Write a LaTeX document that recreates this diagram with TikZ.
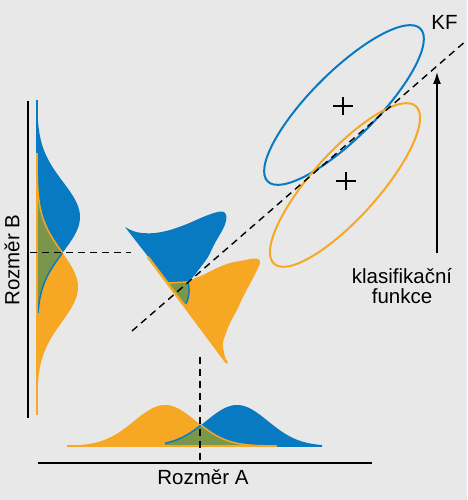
\documentclass[tikz,border=0pt]{standalone}
\usepackage{fontspec}
\setmainfont{Liberation Sans}
\usetikzlibrary{arrows.meta}
\definecolor{bg}{RGB}{232,232,232}
\definecolor{kblue}{RGB}{8,122,194}
\definecolor{korange}{RGB}{246,168,36}
\definecolor{kgreen}{RGB}{122,150,74}
\begin{document}
\begin{tikzpicture}[x=1pt,y=-1pt,
  dashln/.style={black, line width=1.4pt, dash pattern=on 7pt off 5pt},
  axisln/.style={black, line width=1.4pt},
  lbl/.style={font=\fontsize{20.5}{20}\selectfont, inner sep=0pt},
  tailb/.style={kblue, line width=1.5pt},
  tailo/.style={korange, line width=1.5pt},
  ell/.style={line width=2pt},
  plusln/.style={black, line width=1.8pt}]
\fill[bg] (0,0) rectangle (467,500);
\useasboundingbox (0,0) rectangle (467,500);

% ---------- left (vertical) densities ----------
\fill[kblue] (37,100) -- plot[domain=100:313,samples=120] ({37+43*exp(-0.5*((\x-217)/35)^2)},\x) -- (37,313) -- cycle;
\fill[korange] (37,153) -- plot[domain=153:415,samples=150] ({37+41*exp(-0.5*((\x-287)/35)^2)},\x) -- (37,415) -- cycle;
\begin{scope}
  \clip (37,100) -- plot[domain=100:313,samples=120] ({37+43*exp(-0.5*((\x-217)/35)^2)},\x) -- (37,313) -- cycle;
  \fill[kgreen] (37,153) -- plot[domain=153:415,samples=150] ({37+41*exp(-0.5*((\x-287)/35)^2)},\x) -- (37,415) -- cycle;
\end{scope}
\draw[tailb] plot[domain=252.8:313,samples=40] ({37+43*exp(-0.5*((\x-217)/35)^2)},\x);
\draw[tailo] plot[domain=153:252.8,samples=60] ({37+41*exp(-0.5*((\x-287)/35)^2)},\x);
\draw[kblue, line width=2pt] (37,100) -- (37,153);
\draw[korange, line width=2.2pt] (37,153) -- (37,415);

% ---------- bottom (horizontal) densities ----------
\fill[kblue] (165,446) -- plot[domain=165:322,samples=120] (\x,{446-41*exp(-0.5*((\x-237)/31)^2)}) -- (322,446) -- cycle;
\fill[korange] (67,446) -- plot[domain=67:277,samples=150] (\x,{446-41*exp(-0.5*((\x-165)/31)^2)}) -- (277,446) -- cycle;
\begin{scope}
  \clip (165,446) -- plot[domain=165:322,samples=120] (\x,{446-41*exp(-0.5*((\x-237)/31)^2)}) -- (322,446) -- cycle;
  \fill[kgreen] (67,446) -- plot[domain=67:277,samples=150] (\x,{446-41*exp(-0.5*((\x-165)/31)^2)}) -- (277,446) -- cycle;
\end{scope}
\draw[tailb] plot[domain=165:201,samples=30] (\x,{446-41*exp(-0.5*((\x-237)/31)^2)});
\draw[tailo] plot[domain=201:277,samples=50] (\x,{446-41*exp(-0.5*((\x-165)/31)^2)});
\draw[kblue, line width=2.2pt] (277,446) -- (322,446);
\draw[korange, line width=2.2pt] (67,446) -- (277,446);

% ---------- projected densities on the middle axis ----------
\fill[kblue] plot[smooth, tension=0.55] coordinates {(125,227) (133,231) (142,233) (155,233) (170,230) (187,224) (203,217) (214,213) (220.5,211.5) (224.5,212.5) (226.5,217) (224,227) (215,243) (208,257) (200,268) (193,277) (188,282)} -- (188,296) -- (185,304) -- cycle;
\fill[korange] (148,257) -- (227,363) -- plot[smooth, tension=0.55] coordinates {(227,363) (224,353) (223,343) (226,333) (230,323) (237,310) (243,297) (252,280) (257,270) (259.8,264) (259.3,260) (255.5,258.5) (250,259) (243,260.5) (230,263) (217,268) (203,275) (193,279) (188,282)} -- (168,283) -- cycle;
\fill[kgreen] (168,283) -- (188,283) -- (188,297) -- (185,304) -- cycle;
\draw[tailb] (188,282) .. controls (190,290) and (189,298) .. (186,304);
\draw[tailo] (168,283) -- (188,282);
\draw[korange, line width=2.5pt] (148,257) -- (227,363);

% ---------- ellipses and centroids ----------
\draw[kblue, ell, rotate around={45:(344,105)}] (344,105) ellipse [x radius=108, y radius=33];
\draw[korange, ell, rotate around={48:(345,185)}] (345,185) ellipse [x radius=106, y radius=33];
\coordinate (c1) at (343,106);
\coordinate (c2) at (346,181);
\draw[plusln] ([xshift=-10pt]c1) -- ([xshift=10pt]c1);
\draw[plusln] ([yshift=-9pt]c1) -- ([yshift=9pt]c1);
\draw[plusln] ([xshift=-10pt]c2) -- ([xshift=10pt]c2);
\draw[plusln] ([yshift=-9pt]c2) -- ([yshift=9pt]c2);

% ---------- axes ----------
\coordinate (yTop) at (28,101);
\coordinate (yBot) at (28,418);
\coordinate (xLft) at (38,463);
\coordinate (xRgt) at (372,463);
\draw[axisln] (yTop) -- (yBot);
\draw[axisln] (xLft) -- (xRgt);

% ---------- dashed lines ----------
\coordinate (hS) at (30,252.5);
\coordinate (hE) at (131,252.5);
\coordinate (vS) at (200,357);
\coordinate (vE) at (200,462);
\coordinate (kfS) at (132,331);
\coordinate (kfE) at (467,40);
\draw[dashln] (hS) -- (hE);
\draw[dashln] (vS) -- (vE);
\draw[dashln] (kfS) -- (kfE);

% ---------- arrow ----------
\coordinate (arS) at (437,253);
\coordinate (arE) at (437,72);
\draw[black, line width=1.6pt, -{Latex[length=12pt,width=8pt]}] (arS) -- (arE);

% ---------- labels ----------
\node[lbl] (kf) at (444.5,22.5) {KF};
\node[lbl, anchor=base] (kl1) at (402,283) {klasifikační};
\node[lbl, anchor=base] (kl2) at (402,303) {funkce};
\node[lbl, anchor=base] (rozA) at (203,484.3) {Rozměr A};
\node[lbl, rotate=90, anchor=base] (rozB) at (19.5,260) {Rozměr B};
\end{tikzpicture}
\end{document}
